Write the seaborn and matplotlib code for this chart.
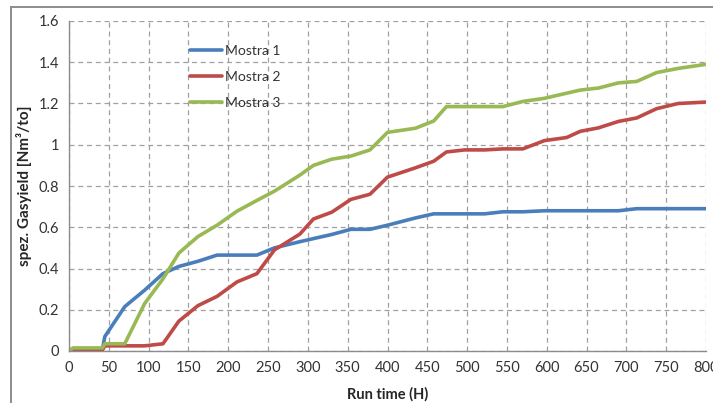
import pandas as pd
import numpy as np
import seaborn as sns
import matplotlib.pyplot as plt
from matplotlib.patches import Rectangle

# run time in hours
run_time = [0, 5, 20, 42, 45, 70, 95, 118, 138, 162, 186, 211, 236, 258, 290, 307,
            330, 354, 378, 400, 435, 458, 474, 497, 522, 545, 570, 597, 625, 642,
            665, 690, 713, 738, 765, 800]

mostra_1 = [0, 0.005, 0.005, 0.008, 0.07, 0.215, 0.295, 0.375, 0.41, 0.435, 0.465,
            0.465, 0.465, 0.5, 0.53, 0.545, 0.565, 0.59, 0.59, 0.61, 0.645, 0.665,
            0.665, 0.665, 0.665, 0.675, 0.675, 0.68, 0.68, 0.68, 0.68, 0.68, 0.69,
            0.69, 0.69, 0.69]

mostra_2 = [0, 0, 0, 0.005, 0.025, 0.025, 0.025, 0.035, 0.145, 0.22, 0.265, 0.335,
            0.375, 0.49, 0.567, 0.64, 0.673, 0.735, 0.76, 0.843, 0.888, 0.92, 0.965,
            0.975, 0.975, 0.98, 0.98, 1.02, 1.035, 1.065, 1.082, 1.113, 1.13, 1.175,
            1.2, 1.207]

mostra_3 = [0, 0.015, 0.015, 0.015, 0.035, 0.035, 0.23, 0.35, 0.475, 0.555, 0.61,
            0.678, 0.73, 0.775, 0.853, 0.9, 0.93, 0.945, 0.975, 1.06, 1.08, 1.115,
            1.185, 1.185, 1.185, 1.185, 1.21, 1.225, 1.25, 1.265, 1.275, 1.30, 1.307,
            1.35, 1.37, 1.39]

series_names = ["Mostra 1", "Mostra 2", "Mostra 3"]
colors = ["#4A7EBB", "#BE4B48", "#98B954"]

df = pd.DataFrame({"time": run_time, "Mostra 1": mostra_1,
                   "Mostra 2": mostra_2, "Mostra 3": mostra_3})
long = df.melt(id_vars="time", var_name="serie", value_name="yield")

sns.set_style("white")
plt.rcParams['font.family'] = ['Lato', 'DejaVu Sans']

fig = plt.figure(figsize=(7.13, 4.03), dpi=100)
ax = fig.add_axes([69/713, 1 - 351/403, (706 - 69)/713, (351 - 21)/403])

sns.lineplot(data=long, x="time", y="yield", hue="serie", hue_order=series_names,
             palette=colors, linewidth=2.6, ax=ax)

ax.set_xlim(0, 800)
ax.set_ylim(0, 1.6)
ax.set_xticks(np.arange(0, 801, 50))
ax.set_yticks(np.arange(0, 1.61, 0.2))
ax.set_yticklabels(["0", "0.2", "0.4", "0.6", "0.8", "1", "1.2", "1.4", "1.6"])
ax.tick_params(axis="both", labelsize=10.5, colors="#333333", length=4,
               width=0.8, direction="out", pad=3)
ax.tick_params(axis="both", color="#8C8C8C")
ax.grid(True, linestyle=(0, (4, 3)), color="#A0A0A0", linewidth=0.9)
ax.set_axisbelow(True)
for side in ["top", "right"]:
    ax.spines[side].set_visible(False)
for side in ["left", "bottom"]:
    ax.spines[side].set_color("#8C8C8C")
    ax.spines[side].set_linewidth(1.0)

ax.set_xlabel("Run time (H)", fontsize=10.5, fontweight="bold", labelpad=9)
ax.set_ylabel("spez. Gasyield [Nm³/to]", fontsize=11, fontweight="bold", labelpad=5)

leg = ax.legend(loc="upper left", bbox_to_anchor=(0.17, 0.965), frameon=False,
                fontsize=10, handlelength=2.3, handletextpad=0.2, labelspacing=1.0)
for t in leg.get_texts():
    t.set_color("#333333")

# outer chart frame, partly cut off on the right and bottom
fig.patches.append(Rectangle((11/713, -0.1), 1.2, 1.1 - 7/403,
                             transform=fig.transFigure, fill=False,
                             edgecolor="#8C8C8C", linewidth=1.4))

fig.savefig("out.png", dpi=100)
